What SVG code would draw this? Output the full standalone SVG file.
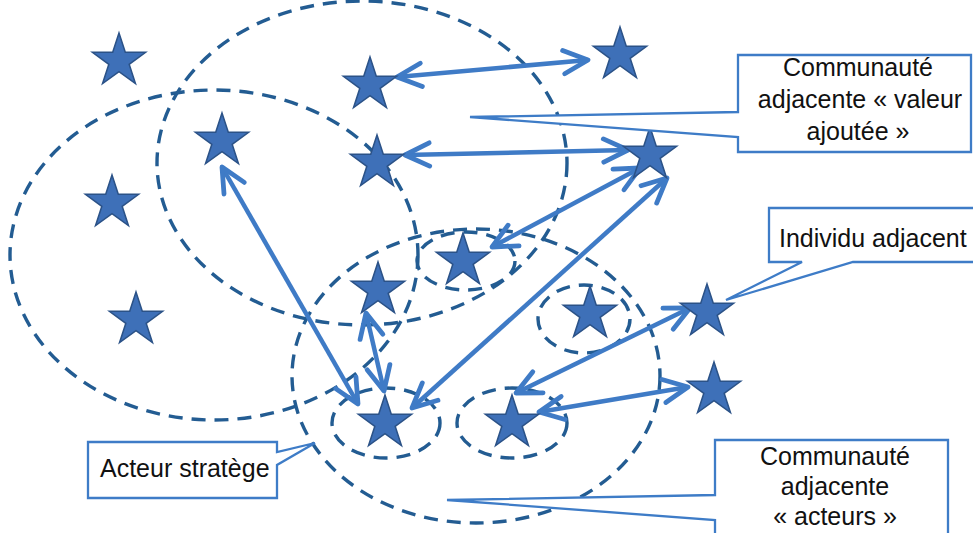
<svg xmlns="http://www.w3.org/2000/svg" xmlns:xlink="http://www.w3.org/1999/xlink" width="973" height="533" viewBox="0 0 973 533">
<style>
.ell{fill:none;stroke:#235C92;stroke-width:3.4;stroke-dasharray:14 9}
.star{fill:#3E70B8;stroke:#2B5287;stroke-width:1.5;stroke-linejoin:miter}
.arr{fill:none;stroke:#3F7BC6;stroke-width:4.5;marker-start:url(#ah);marker-end:url(#ah)}
.call{fill:#fff;stroke:#3E7CC7;stroke-width:2.3}
.lbl{font-family:"Liberation Sans",Arial,sans-serif;font-size:25px;fill:#111}
</style>
<defs>
<path id="star" d="M0,-28 L6.29,-8.66 L26.63,-8.65 L10.18,3.31 L16.46,22.65 L0,10.7 L-16.46,22.65 L-10.18,3.31 L-26.63,-8.65 L-6.29,-8.66 Z"/>
<marker id="ah" markerUnits="userSpaceOnUse" markerWidth="34" markerHeight="34" viewBox="-28 -15 32 30" refX="0" refY="0" orient="auto-start-reverse" overflow="visible">
<path d="M-23,-11 L0,0 L-23,11" fill="none" stroke="#3F7BC6" stroke-width="4.5" stroke-linecap="round" stroke-linejoin="round"/>
</marker>
</defs>
<rect width="973" height="533" fill="#fff"/>
<g id="communities">
<ellipse id="comm-left" class="ell" cx="214" cy="255" rx="204" ry="165"/>
<ellipse id="comm-top" class="ell" cx="362" cy="163" rx="205" ry="162"/>
<ellipse id="comm-bottom" class="ell" cx="476" cy="376" rx="184" ry="147"/>
<ellipse id="ring-8" class="ell" cx="466" cy="261" rx="49" ry="29"/>
<ellipse id="ring-10" class="ell" cx="584" cy="319" rx="46" ry="34"/>
<ellipse id="ring-14" class="ell" cx="386" cy="423" rx="54" ry="35"/>
<ellipse id="ring-15" class="ell" cx="512" cy="423" rx="55" ry="35"/>
</g>
<g id="connectors">
<line class="arr" x1="397" y1="77" x2="588" y2="60"/>
<line class="arr" x1="405" y1="155" x2="628" y2="150"/>
<line class="arr" x1="222" y1="167" x2="358" y2="404"/>
<line class="arr" x1="640" y1="168" x2="492" y2="247"/>
<line class="arr" x1="667" y1="178" x2="412" y2="408"/>
<line class="arr" x1="366" y1="313" x2="384" y2="391"/>
<line class="arr" x1="690" y1="308" x2="516" y2="393"/>
<line class="arr" x1="688" y1="387" x2="539" y2="412"/>
</g>
<g id="star-1"><use xlink:href="#star" class="star" x="119" y="61"/></g>
<g id="star-2"><use xlink:href="#star" class="star" x="370" y="85"/></g>
<g id="star-3"><use xlink:href="#star" class="star" x="620" y="55"/></g>
<g id="star-4"><use xlink:href="#star" class="star" x="222" y="141"/></g>
<g id="star-5"><use xlink:href="#star" class="star" x="377" y="163"/></g>
<g id="star-6"><use xlink:href="#star" class="star" x="650" y="155"/></g>
<g id="star-7"><use xlink:href="#star" class="star" x="112" y="203"/></g>
<g id="star-8"><use xlink:href="#star" class="star" x="463" y="261"/></g>
<g id="star-9"><use xlink:href="#star" class="star" x="378" y="290"/></g>
<g id="star-10"><use xlink:href="#star" class="star" x="590" y="314"/></g>
<g id="star-11"><use xlink:href="#star" class="star" x="707" y="312"/></g>
<g id="star-12"><use xlink:href="#star" class="star" x="136" y="320"/></g>
<g id="star-13"><use xlink:href="#star" class="star" x="714" y="390"/></g>
<g id="star-14"><use xlink:href="#star" class="star" x="385" y="423"/></g>
<g id="star-15"><use xlink:href="#star" class="star" x="512" y="423"/></g>
<g id="callout-valeur">
<path class="call" d="M738,55 L971,55 L971,152 L738,152 L738,137 L470,117 L738,112 Z"/>
<text class="lbl" text-anchor="middle"><tspan x="858" y="76">Communauté</tspan><tspan x="860" y="108">adjacente « valeur</tspan><tspan x="858" y="140">ajoutée »</tspan></text>
</g>
<g id="callout-individu">
<path class="call" d="M769,208 L976,208 L976,262 L853,262 L726,300 L802,262 L769,262 Z"/>
<text class="lbl" x="779" y="247">Individu adjacent</text>
</g>
<g id="callout-acteurs">
<path class="call" d="M715,440 L948,440 L948,545 L715,545 L715,520 L447,500 L715,495 Z"/>
<text class="lbl" text-anchor="middle"><tspan x="835" y="465">Communauté</tspan><tspan x="835" y="495">adjacente</tspan><tspan x="835" y="525">« acteurs »</tspan></text>
</g>
<g id="callout-stratege">
<path class="call" d="M88,442 L277,442 L277,452 L315,443 L277,465 L277,498 L88,498 Z"/>
<text class="lbl" x="100" y="477">Acteur stratège</text>
</g>
</svg>
